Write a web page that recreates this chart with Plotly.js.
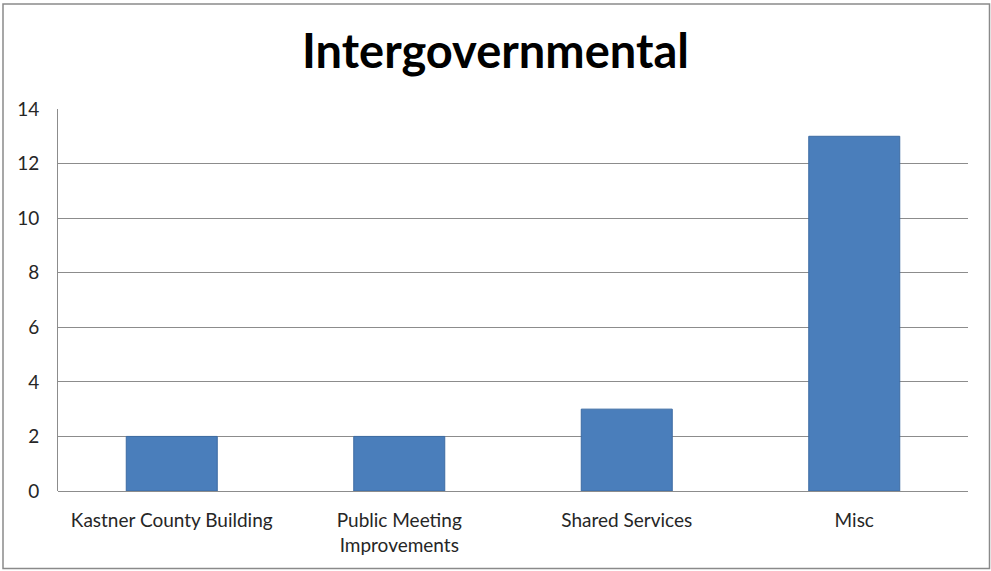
<!DOCTYPE html>
<html>
<head>
<meta charset="utf-8">
<script src="https://cdn.plot.ly/plotly-3.0.1.min.js"></script>
<style>
html,body{margin:0;padding:0;background:#fff;}
#chart{width:991px;height:571px;}
</style>
</head>
<body>
<div id="chart"></div>
<script>
var categories = ["Kastner County Building", "Public Meeting<br>Improvements", "Shared Services", "Misc"];
var values = [2, 2, 3, 13];
var yTicks = [0, 2, 4, 6, 8, 10, 12, 14];
var chartTitle = "Intergovernmental";

var fontFam = "Lato, 'Open Sans', sans-serif";
var L = 58, R = 23, T = 109, B = 80;
var W = 991, H = 571;
var pw = W - L - R, ph = H - T - B;
function px2paperX(x){ return (x - L) / pw; }
function px2paperY(y){ return (H - B - y) / ph; }

var trace = {
  type: 'bar',
  x: categories,
  y: values,
  marker: {color: '#4a7ebb', line: {color: '#3d6ba3', width: 1}},
  hoverinfo: 'x+y'
};

var layout = {
  width: W, height: H,
  margin: {l: L, r: R, t: T, b: B, pad: 0},
  paper_bgcolor: '#ffffff',
  plot_bgcolor: '#ffffff',
  bargap: 0.6,
  showlegend: false,
  font: {family: fontFam, color: '#262626'},
  title: {
    text: '<b>' + chartTitle + '</b>',
    font: {family: fontFam, size: 47, color: '#000000'},
    x: 0.5, xanchor: 'center',
    y: 1 - 52 / H, yanchor: 'middle', yref: 'container'
  },
  xaxis: {
    type: 'category',
    showgrid: false,
    showline: false,
    zeroline: false,
    ticks: '',
    tickfont: {family: fontFam, size: 19, color: '#262626'},
    ticklabelstandoff: 16
  },
  yaxis: {
    range: [0, 14],
    tickvals: yTicks,
    showgrid: true,
    gridcolor: '#8c8c8c',
    gridwidth: 1,
    zeroline: true,
    zerolinecolor: '#8c8c8c',
    zerolinewidth: 1,
    showline: true,
    linecolor: '#8c8c8c',
    linewidth: 1,
    ticks: '',
    tickfont: {family: fontFam, size: 19, color: '#262626'},
    ticklabelstandoff: 14
  },
  shapes: [{
    type: 'rect', xref: 'paper', yref: 'paper',
    x0: px2paperX(3), x1: px2paperX(989.5),
    y0: px2paperY(568.5), y1: px2paperY(4),
    line: {color: '#8a8a8a', width: 1.5},
    fillcolor: 'rgba(0,0,0,0)',
    layer: 'above'
  }]
};

Plotly.newPlot('chart', [trace], layout, {displayModeBar: false, staticPlot: true});
</script>
</body>
</html>
